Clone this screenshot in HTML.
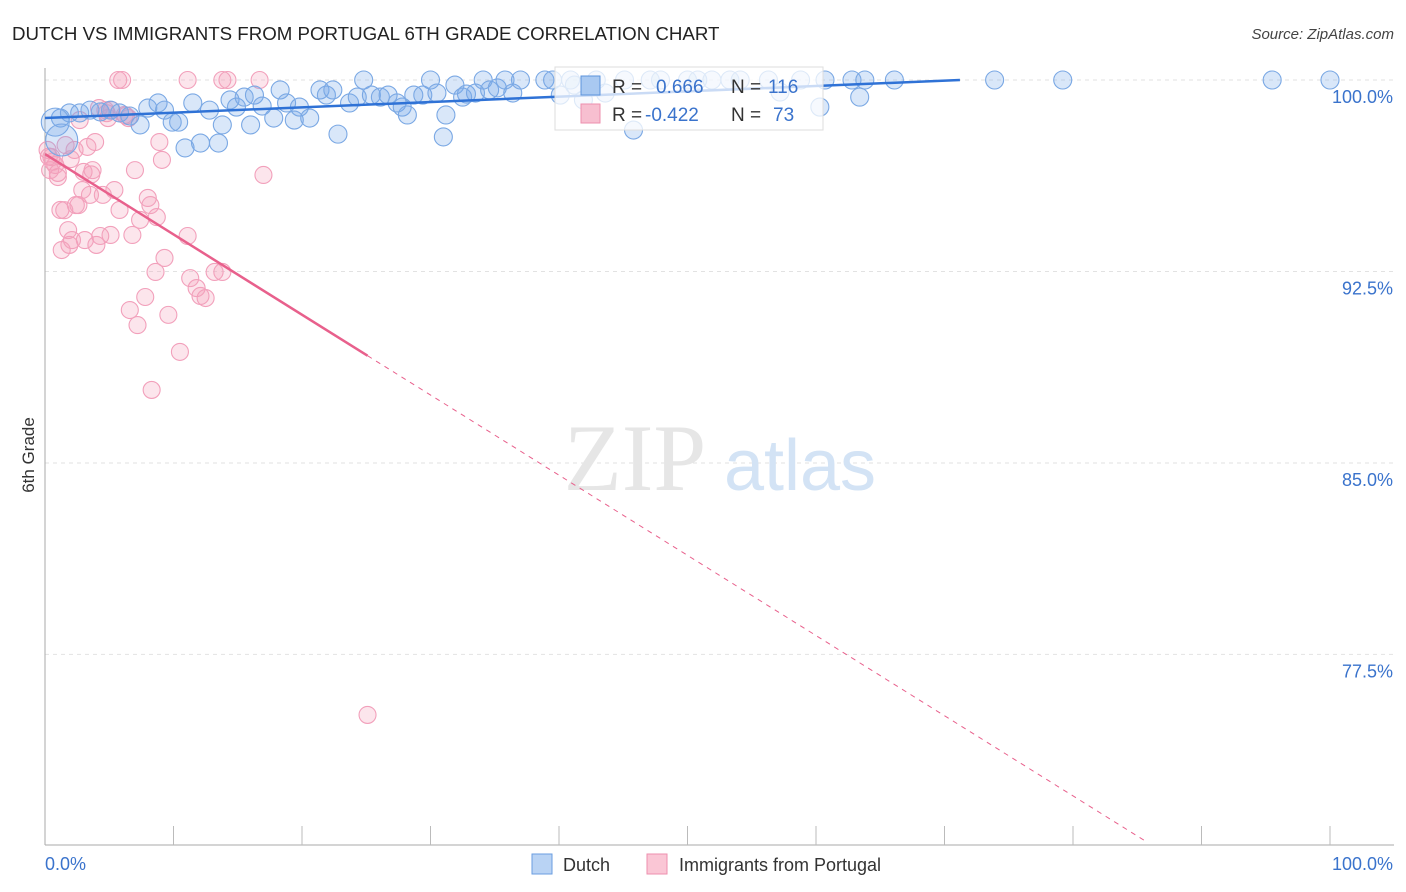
<!DOCTYPE html>
<html><head><meta charset="utf-8">
<style>
body{margin:0;background:#fff;font-family:"Liberation Sans",sans-serif;}
svg{display:block}
</style></head>
<body>
<svg id="chart" width="1406" height="892" xmlns="http://www.w3.org/2000/svg">
<text x="12" y="40" font-size="18.7" fill="#222" font-family="Liberation Sans, sans-serif">DUTCH VS IMMIGRANTS FROM PORTUGAL 6TH GRADE CORRELATION CHART</text>
<text x="1394" y="39" font-size="15" fill="#444" text-anchor="end" font-style="italic">Source: ZipAtlas.com</text>
<text transform="translate(34,455) rotate(-90)" font-size="17" fill="#333" text-anchor="middle">6th Grade</text>
<g id="grid"></g>
<g id="watermark">
<text x="635" y="490" font-size="95" fill="#e6e6e6" text-anchor="middle" font-family="Liberation Serif, serif">ZIP</text>
<text x="800" y="490" font-size="72" fill="#d3e3f5" text-anchor="middle">atlas</text>
</g>
<g id="axes"></g>
<g id="pinkPts"></g>
<g id="bluePts"></g>
<g id="trends"></g>
<g>
<rect x="555" y="67" width="268" height="63" fill="#fff" fill-opacity="0.75" stroke="#ddd"/>
<rect x="581" y="76" width="19" height="19" fill="#a9c9f1" stroke="#5b93dc"/>
<rect x="581" y="104" width="19" height="19" fill="#f7bfd0" stroke="#ee8fae"/>
<text x="612" y="93" font-size="19" fill="#333">R =</text>
<text x="656" y="93" font-size="19" fill="#3a73cc">0.666</text>
<text x="731" y="93" font-size="19" fill="#333">N =</text>
<text x="768" y="93" font-size="19" fill="#3a73cc">116</text>
<text x="612" y="121" font-size="19" fill="#333">R =</text>
<text x="645" y="121" font-size="19" fill="#3a73cc">-0.422</text>
<text x="731" y="121" font-size="19" fill="#333">N =</text>
<text x="773" y="121" font-size="19" fill="#3a73cc">73</text>
</g>
<g>
<rect x="532" y="854" width="20" height="20" fill="#b9d3f4" stroke="#6a9ee0"/>
<text x="563" y="871" font-size="18" fill="#333">Dutch</text>
<rect x="647" y="854" width="20" height="20" fill="#fac6d5" stroke="#ee8fae"/>
<text x="679" y="871" font-size="18" fill="#333">Immigrants from Portugal</text>
</g>
</svg>
<script>
const yTicks=[100,92.5,85,77.5];
const xTickLabels=["0.0%","100.0%"];
const blueX=[1.2,1.9,2.7,3.5,4.3,5.1,5.8,6.6,7.4,8.0,8.8,9.3,9.9,10.4,10.9,11.5,12.1,12.8,13.5,13.8,14.4,14.9,15.5,16.0,16.3,16.9,17.8,18.3,18.8,19.4,19.8,20.6,21.4,21.9,22.4,22.8,23.7,24.3,24.8,25.4,26.1,26.7,27.4,27.8,28.2,28.7,29.4,30.0,30.5,31.0,31.2,31.9,32.5,32.8,33.5,34.1,34.6,35.2,35.8,36.4,37.0,38.9,39.5,40.1,40.9,41.2,41.9,42.9,43.6,45.1,45.8,47.1,47.9,50.0,50.8,51.9,53.3,54.1,56.3,57.2,58.8,60.3,60.7,62.8,63.4,63.8,66.1,73.9,79.2,95.5,100,0.8,1.3];
const blueY=[98.51,98.71,98.71,98.82,98.75,98.82,98.71,98.59,98.24,98.90,99.10,98.82,98.35,98.35,97.34,99.10,97.53,98.82,97.53,98.24,99.22,98.94,99.33,98.24,99.41,98.98,98.51,99.61,99.10,98.43,98.94,98.51,99.61,99.41,99.61,97.88,99.10,99.33,100,99.41,99.33,99.41,99.10,98.94,98.63,99.41,99.41,100,99.49,97.77,98.63,99.80,99.33,99.45,99.49,100,99.61,99.69,100,99.49,100,100,100,99.41,100,99.80,99.22,100,99.49,100,98.04,100,100,100,100,100,100,100,100,99.53,100,98.94,100,100,99.33,100,100,100,100,100,100,98.35,97.65];
const blueR=[9,9,9,9,9,9,9,9,9,9,9,9,9,9,9,9,9,9,9,9,9,9,9,9,9,9,9,9,9,9,9,9,9,9,9,9,9,9,9,9,9,9,9,9,9,9,9,9,9,9,9,9,9,9,9,9,9,9,9,9,9,9,9,9,9,9,9,9,9,9,9,9,9,9,9,9,9,9,9,9,9,9,9,9,9,9,9,9,9,9,9,14,16];
const pinkX=[0.2,0.4,0.5,0.8,1.0,1.2,1.3,1.6,1.8,1.9,2.1,2.3,2.6,2.7,2.9,3.1,3.3,3.5,3.7,3.9,4.0,4.2,4.3,4.5,4.7,4.9,5.1,5.2,5.4,5.7,5.8,6.0,6.2,6.5,6.6,6.8,7.0,7.2,7.4,7.8,8.0,8.2,8.3,8.6,8.7,8.9,9.1,9.3,9.6,10.5,11.1,11.1,11.3,11.8,12.1,12.5,13.2,13.8,13.8,14.2,16.7,17.0,25.1,0.6,1.0,2.0,3.0,0.3,4.8,6.3,1.5,2.4,3.6];
const pinkY=[97.26,96.47,96.98,96.67,96.36,94.91,93.34,97.45,94.12,93.54,93.73,97.26,95.10,98.43,95.69,93.73,97.38,95.50,96.47,97.57,93.54,98.90,93.89,95.50,98.82,98.51,93.93,98.82,95.69,100,94.91,100,98.63,98.51,90.99,93.93,96.47,90.40,94.52,91.50,95.38,95.10,87.86,92.48,94.63,97.57,96.87,93.03,90.80,89.35,100,93.89,92.24,91.85,91.54,91.46,92.48,100,92.48,100,100,96.28,75.13,96.80,96.20,96.90,96.40,97.00,98.70,98.60,94.90,95.10,96.30];
const blueTrend=[[0,98.51],[71.2,100]];
const pinkTrend=[[0,97.1],[25.1,89.2],[85.6,70.2]];

const X0=45,X1=1330,Y100=80,PXPER=25.53;
const sx=v=>X0+(X1-X0)*v/100;
const sy=v=>Y100+(100-v)*PXPER;
const NS="http://www.w3.org/2000/svg";
function mk(tag,attrs,parent){const e=document.createElementNS(NS,tag);for(const k in attrs)e.setAttribute(k,attrs[k]);parent.appendChild(e);return e;}
const grid=document.getElementById('grid'),axes=document.getElementById('axes');
yTicks.forEach((t,i)=>{
  const l=mk('line',{x1:X0,x2:1394,y1:sy(t),y2:sy(t),stroke:'#e2e2e2','stroke-dasharray':'4,4'},grid);
  
  
  const tx=mk('text',{x:1393,y:sy(t)+23,'font-size':18,fill:'#3a73cc','text-anchor':'end'},axes);
  tx.textContent=t.toFixed(1)+'%';
  
  
});
mk('line',{x1:X0,x2:X0,y1:68,y2:845,stroke:'#aaa'},axes);
mk('line',{x1:X0,x2:1394,y1:845,y2:845,stroke:'#aaa'},axes);
for(let i=1;i<=10;i++){const x=sx(i*10);mk('line',{x1:x,x2:x,y1:826,y2:845,stroke:'#bbb'},axes);}
const xl0=mk('text',{x:X0,y:870,'font-size':18,fill:'#3a73cc'},axes);xl0.textContent=xTickLabels[0];


const xl1=mk('text',{x:1393,y:870,'font-size':18,fill:'#3a73cc','text-anchor':'end'},axes);xl1.textContent=xTickLabels[1];


const pg=document.getElementById('pinkPts');
pinkX.forEach((v,i)=>{const c=mk('circle',{cx:sx(v),cy:sy(pinkY[i]),r:8.5,fill:'rgba(244,160,188,0.28)',stroke:'#f2a0bb','stroke-width':1.1},pg);

});
const bg=document.getElementById('bluePts');
blueX.forEach((v,i)=>{const c=mk('circle',{cx:sx(v),cy:sy(blueY[i]),r:blueR[i],fill:'rgba(120,170,235,0.28)',stroke:'#7aa8e4','stroke-width':1.1},bg);

});
const tg=document.getElementById('trends');
const bt=mk('line',{x1:sx(blueTrend[0][0]),y1:sy(blueTrend[0][1]),x2:sx(blueTrend[1][0]),y2:sy(blueTrend[1][1]),stroke:'#2f72d6','stroke-width':2.5},tg);


const pt=mk('line',{x1:sx(pinkTrend[0][0]),y1:sy(pinkTrend[0][1]),x2:sx(pinkTrend[1][0]),y2:sy(pinkTrend[1][1]),stroke:'#e8608c','stroke-width':2.5},tg);


const pd=mk('line',{x1:sx(pinkTrend[1][0]),y1:sy(pinkTrend[1][1]),x2:sx(pinkTrend[2][0]),y2:sy(pinkTrend[2][1]),stroke:'#e8608c','stroke-width':1,'stroke-dasharray':'5,5'},tg);


</script>
</body></html>
